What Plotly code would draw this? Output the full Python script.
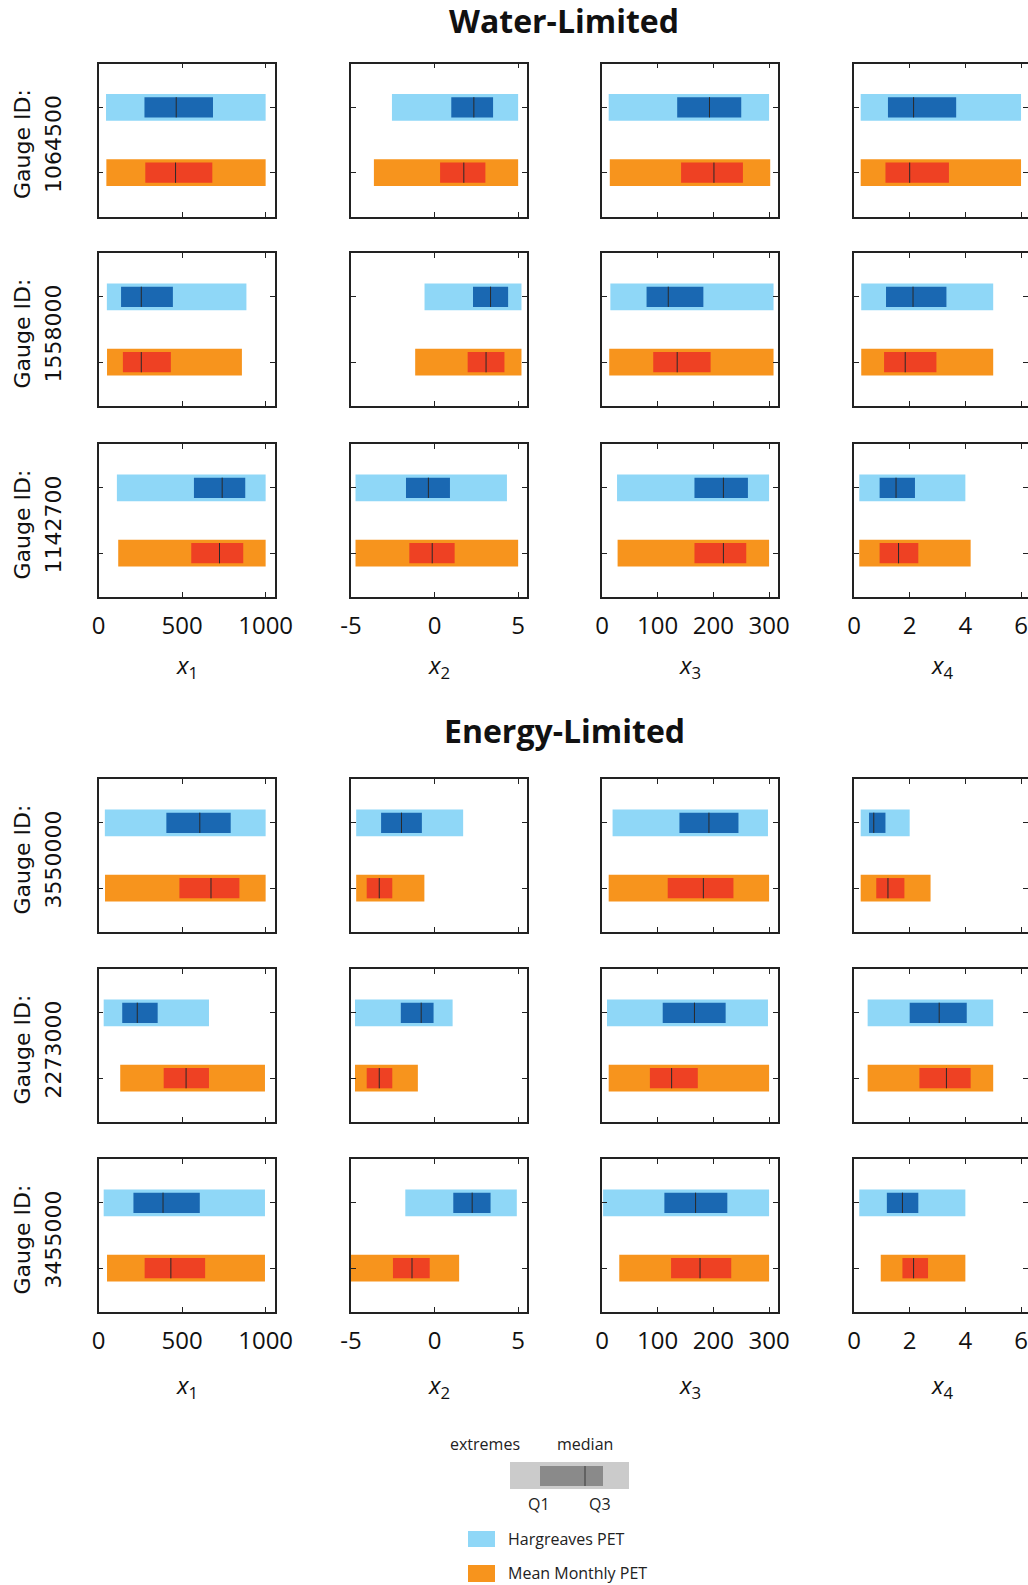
import plotly.graph_objects as go

# ---------------- data ----------------
gauges = ["1064500", "1558000", "1142700", "3550000", "2273000", "3455000"]
groups = ["Water-Limited", "Energy-Limited"]
param_labels = ["<i>x</i><sub>1</sub>", "<i>x</i><sub>2</sub>",
                "<i>x</i><sub>3</sub>", "<i>x</i><sub>4</sub>"]
tick_vals = [[0, 500, 1000], [-5, 0, 5], [0, 100, 200, 300], [0, 2, 4, 6]]
tick_text = [["0", "500", "1000"], ["-5", "0", "5"], ["0", "100", "200", "300"], ["0", "2", "4", "6"]]
x_ranges = [[0, 1053], [-5, 5.53], [0, 316], [0, 6.25]]

# Hargreaves PET (rows = gauges, cols = x1..x4)
harg_min = [[45, -2.55, 12, 0.24], [50, -0.6, 15, 0.26], [110, -4.73, 27, 0.19],
            [38, -4.69, 19, 0.24], [31, -4.76, 9, 0.49], [31, -1.75, 2, 0.19]]
harg_q1 = [[275, 1.0, 135, 1.22], [135, 2.3, 80, 1.15], [571, -1.71, 166, 0.92],
           [406, -3.2, 139, 0.54], [142, -2.02, 109, 2.0], [209, 1.12, 112, 1.18]]
harg_med = [[465, 2.35, 193, 2.14], [256, 3.35, 119, 2.12], [740, -0.37, 218, 1.51],
            [606, -1.98, 192, 0.71], [232, -0.8, 166, 3.06], [386, 2.25, 168, 1.74]]
harg_q3 = [[685, 3.5, 250, 3.67], [445, 4.4, 182, 3.32], [878, 0.92, 262, 2.19],
           [791, -0.76, 245, 1.13], [354, -0.06, 222, 4.05], [606, 3.35, 225, 2.31]]
harg_max = [[1000, 5.0, 300, 6.0], [885, 5.2, 308, 5.0], [1000, 4.33, 300, 4.0],
            [1000, 1.71, 298, 2.0], [661, 1.08, 298, 5.0], [996, 4.92, 300, 4.0]]

# Mean Monthly PET
mm_min = [[47, -3.63, 14, 0.24], [51, -1.16, 13, 0.26], [118, -4.73, 28, 0.19],
          [39, -4.69, 12, 0.24], [130, -4.76, 12, 0.49], [51, -5.0, 31, 0.96]]
mm_q1 = [[280, 0.33, 142, 1.13], [146, 1.98, 92, 1.08], [555, -1.51, 166, 0.92],
         [484, -4.06, 118, 0.8], [390, -4.06, 86, 2.35], [276, -2.49, 124, 1.74]]
mm_med = [[461, 1.75, 201, 2.0], [256, 3.08, 135, 1.84], [724, -0.14, 218, 1.6],
          [673, -3.31, 182, 1.22], [524, -3.31, 125, 3.32], [433, -1.35, 176, 2.14]]
mm_q3 = [[681, 3.04, 253, 3.41], [433, 4.18, 195, 2.96], [866, 1.2, 259, 2.31],
         [843, -2.53, 236, 1.81], [661, -2.53, 172, 4.19], [638, -0.29, 232, 2.66]]
mm_max = [[1000, 5.0, 302, 6.0], [858, 5.2, 308, 5.0], [1000, 5.0, 300, 4.19],
          [1000, -0.61, 300, 2.75], [996, -1.0, 300, 5.0], [996, 1.47, 300, 4.0]]

# ---------------- styling / geometry ----------------
W, H = 1028, 1585
LIGHT_BLUE, DARK_BLUE = "#8fd7f7", "#1a68b2"
ORANGE, RED = "#f7941d", "#ee4123"
AX = "#222222"
FONT = "Open Sans"

col_left = [98.5, 351, 602, 854]
col_w = 176
row_top = [63.5, 253, 444, 779, 969, 1159]
row_h = 153

def px(x):
    return x / W

def py(y):
    return 1 - y / H

series = [
    (2, LIGHT_BLUE, DARK_BLUE, harg_min, harg_q1, harg_med, harg_q3, harg_max),
    (1, ORANGE, RED, mm_min, mm_q1, mm_med, mm_q3, mm_max),
]

fig = go.Figure()
layout = dict(width=W, height=H, autosize=False,
              margin=dict(l=0, r=0, t=0, b=0, autoexpand=False),
              paper_bgcolor="white", plot_bgcolor="white",
              barmode="overlay", showlegend=False, hovermode=False)

annotations = []
for r in range(6):
    for c in range(4):
        k = r * 4 + c + 1
        xs = "x" if k == 1 else f"x{k}"
        ys = "y" if k == 1 else f"y{k}"
        x0 = col_left[c]
        x1 = min(x0 + col_w, W)
        y0 = row_top[r]
        y1 = y0 + row_h
        show_lbl = r in (2, 5)
        layout[f"xaxis{k}"] = dict(
            domain=[px(x0), px(x1)], anchor=ys, range=x_ranges[c],
            tickvals=tick_vals[c], ticktext=tick_text[c], ticks="inside", ticklen=5, tickwidth=1.2,
            tickcolor=AX, showline=True, linecolor=AX, linewidth=1.5,
            mirror="ticks", showgrid=False, zeroline=False,
            showticklabels=show_lbl, ticklabelstandoff=6,
            tickfont=dict(family=FONT, size=24, color="#111"))
        layout[f"yaxis{k}"] = dict(
            domain=[py(y1), py(y0)], anchor=xs, range=[0.33, 2.67],
            tickvals=[1, 2], ticks="inside", ticklen=5, tickwidth=1.2,
            tickcolor=AX, showline=True, linecolor=AX, linewidth=1.5,
            mirror="ticks", showgrid=False, zeroline=False,
            showticklabels=False)
        for (yv, lc, dc, smin, sq1, smed, sq3, smax) in series:
            fig.add_trace(go.Bar(
                x=[smax[r][c] - smin[r][c]], base=[smin[r][c]], y=[yv],
                orientation="h", width=0.41, marker=dict(color=lc, line=dict(width=0)),
                xaxis=xs, yaxis=ys))
            fig.add_trace(go.Bar(
                x=[sq3[r][c] - sq1[r][c]], base=[sq1[r][c]], y=[yv],
                orientation="h", width=0.31, marker=dict(color=dc, line=dict(width=0)),
                xaxis=xs, yaxis=ys))
            fig.add_trace(go.Scatter(
                x=[smed[r][c], smed[r][c]], y=[yv - 0.155, yv + 0.155],
                mode="lines", line=dict(color="#2a2a2a", width=1),
                xaxis=xs, yaxis=ys))
    yc = row_top[r] + row_h / 2 + 4
    annotations.append(dict(x=px(22), y=py(yc), xref="paper", yref="paper",
                            text="Gauge ID:", textangle=-90, showarrow=False,
                            xanchor="center", yanchor="middle",
                            font=dict(family="DejaVu Sans", size=22, color="#111")))
    annotations.append(dict(x=px(53), y=py(yc), xref="paper", yref="paper",
                            text=gauges[r], textangle=-90, showarrow=False,
                            xanchor="center", yanchor="middle",
                            font=dict(family="DejaVu Sans", size=22, color="#111")))

for g, ty in zip(groups, [21, 730]):
    annotations.append(dict(x=px(564), y=py(ty), xref="paper", yref="paper",
                            text=f"<b>{g}</b>", showarrow=False,
                            xanchor="center", yanchor="middle",
                            font=dict(family=FONT, size=32, color="#111")))

for ty in [666, 1386]:
    for c in range(4):
        annotations.append(dict(x=px(col_left[c] + 88), y=py(ty), xref="paper", yref="paper",
                                text=param_labels[c], showarrow=False,
                                xanchor="center", yanchor="middle",
                                font=dict(family=FONT, size=24, color="#111")))

shapes = []
def rect(x0, y0, x1, y1, color):
    shapes.append(dict(type="rect", xref="paper", yref="paper",
                       x0=px(x0), x1=px(x1), y0=py(y1), y1=py(y0),
                       fillcolor=color, line=dict(width=0), layer="above"))

# legend schematic
rect(510, 1462, 629, 1489, "#cbcbcb")
rect(540, 1466, 603, 1486, "#8a8a8a")
shapes.append(dict(type="line", xref="paper", yref="paper",
                   x0=px(585), x1=px(585), y0=py(1466), y1=py(1486),
                   line=dict(color="#3a3a3a", width=1), layer="above"))
rect(468, 1531, 495, 1547, LIGHT_BLUE)
rect(468, 1565, 495, 1582, ORANGE)

for txt, x, y, anc in [("extremes", 485, 1444, "center"), ("median", 585, 1444, "center"),
                       ("Q1", 539, 1504, "center"), ("Q3", 600, 1504, "center"),
                       ("Hargreaves PET", 506, 1539, "left"),
                       ("Mean Monthly PET", 506, 1573, "left")]:
    annotations.append(dict(x=px(x), y=py(y), xref="paper", yref="paper", text=txt,
                            showarrow=False, xanchor=anc, yanchor="middle",
                            font=dict(family=FONT, size=16, color="#222")))

layout["annotations"] = annotations
layout["shapes"] = shapes
fig.update_layout(**layout)
fig.write_html("out.html")
